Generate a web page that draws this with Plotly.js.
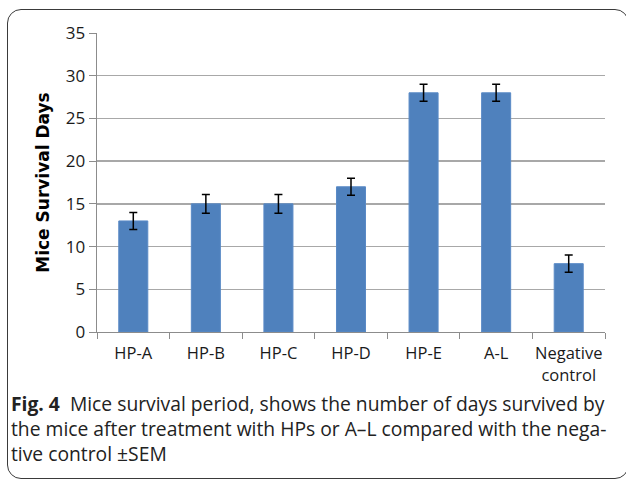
<!DOCTYPE html>
<html><head><meta charset="utf-8">
<script src="https://cdn.plot.ly/plotly-3.0.1.min.js"></script>
<style>
html,body{margin:0;padding:0;background:#fff;}
#wrap{position:relative;width:626px;height:481px;overflow:hidden;}
#frame{position:absolute;left:7px;top:9px;width:620px;height:468px;border:1.5px solid #3a3a3a;border-radius:14px;pointer-events:none;}
#chart{position:absolute;left:0;top:0;width:626px;height:481px;}
</style></head>
<body><div id="wrap"><div id="chart"></div><div id="frame"></div></div>
<script>
const categories = ["HP-A","HP-B","HP-C","HP-D","HP-E","A-L","Negative<br>control"];
const survivalDays = [13,15,15,17,28,28,8];
const sem = [1,1.1,1.1,1,1,1,1];
const yTicks = [0,5,10,15,20,25,30,35];
const captionLines = [
  '<b>Fig. 4</b>  Mice survival period, shows the number of days survived by',
  'the mice after treatment with HPs or A–L compared with the nega-',
  'tive control ±SEM'
];

const trace = {
  type:'bar', x:categories, y:survivalDays,
  marker:{color:'#4f81bd', line:{color:'#5a8ac6', width:1}},
  width:0.4,
  error_y:{type:'data', array:sem, visible:true, color:'#000', thickness:1.5, width:4},
  hoverinfo:'none'
};
const capFont = {family:'Open Sans, sans-serif', size:19.3, color:'#222'};
const capX = (9-97)/508;
const layout = {
  width:626, height:481,
  margin:{l:97,r:21,t:33,b:149},
  paper_bgcolor:'rgba(0,0,0,0)', plot_bgcolor:'#fff',
  showlegend:false,
  font:{family:'Open Sans, sans-serif', color:'#000'},
  xaxis:{
    type:'category', showgrid:false, showline:true, linecolor:'#8c8c8c', linewidth:1.3,
    ticks:'outside', tickson:'boundaries', ticklen:6, tickcolor:'#8c8c8c',
    tickangle:0, ticklabelstandoff:6,
    tickfont:{size:16.5, color:'#1a1a1a'}, automargin:false
  },
  yaxis:{
    range:[0,35], tickvals:yTicks, showgrid:true, gridcolor:'#a8a8a8', gridwidth:1.3,
    showline:true, linecolor:'#8c8c8c', linewidth:1.3, zeroline:false,
    ticks:'outside', ticklen:7, tickcolor:'#8c8c8c',
    tickfont:{size:17, color:'#1a1a1a'},
    title:{text:'<b>Mice Survival Days</b>', font:{family:'DejaVu Sans, sans-serif', size:17, color:'#000'}, standoff:12},
    automargin:false
  },
  annotations:[
    {xref:'paper', yref:'paper', x:capX, y:(332-428.5)/299, xanchor:'left', yanchor:'middle', align:'left', showarrow:false,
     text:captionLines.join('<br>'), font:capFont}
  ]
};
Plotly.newPlot('chart',[trace],layout,{staticPlot:true});
</script></body></html>
